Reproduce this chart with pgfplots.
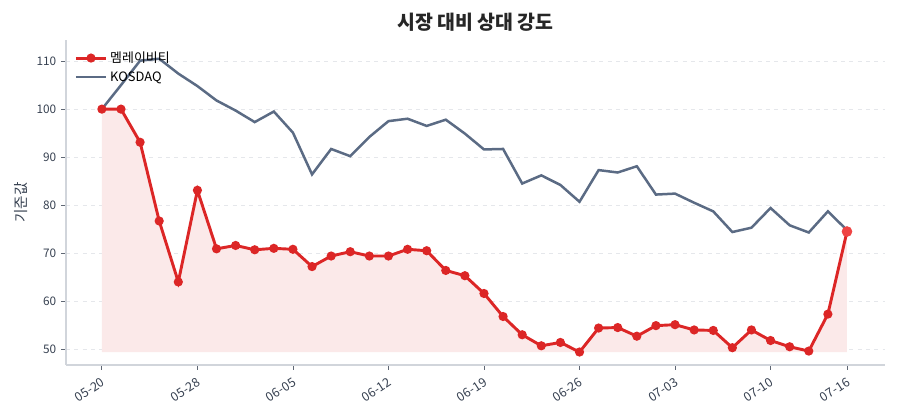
\documentclass[border=0pt]{standalone}
\usepackage{fontspec}
\setmainfont{Noto Sans CJK KR}
\usepackage{pgfplots}
\pgfplotsset{compat=1.18}
\usepackage{pgfplotstable}
\usepgfplotslibrary{fillbetween}

\definecolor{redline}{HTML}{DC2626}
\definecolor{redlast}{HTML}{EF4444}
\definecolor{slateline}{HTML}{5B6B84}
\definecolor{gridc}{HTML}{E5E7EB}
\definecolor{spinec}{HTML}{D1D5DB}
\definecolor{tickc}{HTML}{374151}

% index = trading day, 0 = 05-20
\pgfplotstableread{
idx stock kosdaq
0  100.0 100.0
1  100.0 105.0
2  93.1  110.1
3  76.7  110.5
4  64.0  107.4
5  83.1  104.8
6  70.9  101.8
7  71.6  99.7
8  70.7  97.3
9  71.0  99.5
10 70.8  95.1
11 67.2  86.4
12 69.4  91.7
13 70.3  90.2
14 69.4  94.2
15 69.4  97.5
16 70.8  98.0
17 70.5  96.5
18 66.4  97.8
19 65.3  94.9
20 61.6  91.6
21 56.8  91.7
22 53.0  84.5
23 50.7  86.2
24 51.4  84.2
25 49.4  80.7
26 54.4  87.3
27 54.5  86.8
28 52.7  88.1
29 54.9  82.2
30 55.1  82.4
31 54.0  80.5
32 53.9  78.7
33 50.3  74.4
34 54.0  75.3
35 51.8  79.4
36 50.5  75.8
37 49.6  74.3
38 57.3  78.7
39 74.5  74.8
}\rsdata

\begin{document}
\begin{tikzpicture}
\path (0,0) rectangle (648pt,302.4pt);
\begin{axis}[
  at={(47.5pt,39.6pt)}, anchor=south west,
  scale only axis, width=589.7pt, height=234pt,
  xmin=-1.88, xmax=40.99, ymin=46.7, ymax=114.4,
  axis x line*=bottom, axis y line*=left,
  axis line style={spinec, line width=0.8pt},
  xtick={0,5,10,15,20,25,30,35,39},
  xticklabels={05-20,05-28,06-05,06-12,06-19,06-26,07-03,07-10,07-16},
  ytick={50,60,70,80,90,100,110},
  tick align=outside, major tick length=3.5pt,
  tick style={tickc!80, line width=0.6pt},
  x tick label style={rotate=33, anchor=north east, font=\fontsize{9}{10}\selectfont, text=tickc, yshift=-0.5pt},
  y tick label style={font=\fontsize{8.5}{9}\selectfont, text=tickc},
  /pgf/number format/assume math mode=true,
  ymajorgrids, grid style={gridc, dashed, line width=0.6pt},
  ylabel={기준값},
  ylabel style={at={(axis description cs:-0.055,0.5)}, anchor=center, font=\fontsize{10.5}{11}\selectfont, text=tickc},
  title={\bfseries 시장 대비 상대 강도},
  title style={at={(0.5,1)}, anchor=center, yshift=7pt, font=\fontsize{14}{16}\selectfont, text=black!85},
  legend style={at={(0.005,0.982)}, anchor=north west, draw=none, fill=none,
    font=\fontsize{9.3}{10}\selectfont, row sep=1pt},
  legend cell align=left,
  legend image code/.code={\draw[mark repeat=2,mark phase=2] plot coordinates {(0cm,0cm) (0.38cm,0cm) (0.76cm,0cm)};},
]
\addplot[name path=stk, draw=none, forget plot] table[x=idx, y=stock] {\rsdata};
\addplot[name path=base, draw=none, forget plot] coordinates {(0,49.4) (39,49.4)};
\addplot[redline!10, forget plot] fill between[of=stk and base];
\addplot[redline, line width=2.1pt, mark=*, mark size=2.2pt, mark options={solid}] table[x=idx, y=stock] {\rsdata};
\addlegendentry{멤레이비티}
\addplot[slateline, line width=1.8pt] table[x=idx, y=kosdaq] {\rsdata};
\addlegendentry{KOSDAQ}
\addplot[only marks, redlast, mark=*, mark size=3.6pt, forget plot] coordinates {(39,74.5)};
\end{axis}
\end{tikzpicture}
\end{document}
